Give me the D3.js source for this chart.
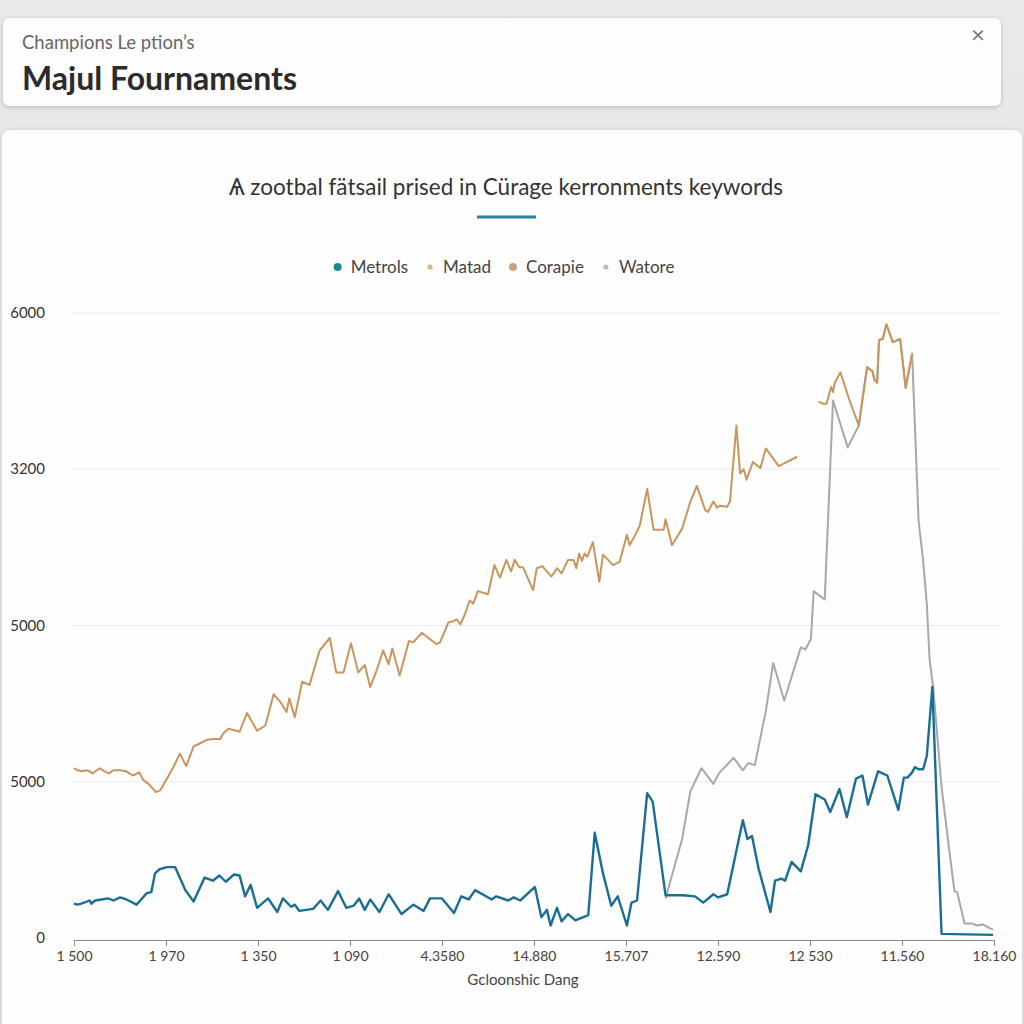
<!DOCTYPE html>
<html>
<head>
<meta charset="utf-8">
<script src="https://cdn.jsdelivr.net/npm/d3@7"></script>
<style>
  html, body { margin: 0; padding: 0; }
  body {
    width: 1024px; height: 1024px; overflow: hidden; position: relative;
    background: linear-gradient(#e9e9e9, #e2e2e2);
    font-family: Lato, "Open Sans", sans-serif;
  }
  .header {
    position: absolute; left: 3px; top: 18px; width: 998px; height: 88px;
    background: #fdfdfd; border-radius: 6px;
    box-shadow: 0 1px 4px rgba(0,0,0,0.22);
  }
  .header .sub { position: absolute; left: 19px; top: 13px; font-size: 18.5px; color: #666; line-height: 22px; }
  .header .title { position: absolute; left: 19px; top: 40px; font-size: 32px; font-weight: 700; color: #2b2b2b; line-height: 40px; }
  .header .close { position: absolute; left: 968px; top: 2px; font-size: 24px; color: #777; line-height: 28px; }
  .card {
    position: absolute; left: 2px; top: 130px; width: 1020px; height: 920px;
    background: #fefefe; border-radius: 8px;
    box-shadow: 0 0 5px rgba(0,0,0,0.12);
  }
  svg { position: absolute; left: 0; top: 0; }
</style>
</head>
<body>
<div class="header">
  <div class="sub">Champions Le ption’s</div>
  <div class="title">Majul Fournaments</div>
  <div class="close">×</div>
</div>
<div class="card"></div>
<div id="chart"></div>
<script>
// tick labels as printed on the chart
const yTicks = [0, 1500, 3000, 4500, 6000];
const yTickLabels = ["0", "5000", "5000", "3200", "6000"];
const xTicks = [0, 10, 20, 30, 40, 50, 60, 70, 80, 90, 100];
const xTickLabels = ["1 500", "1 970", "1 350", "1 090", "4.3580", "14.880", "15.707", "12.590", "12 530", "11.560", "18.160"];

const seriesNames = ["Metrols", "Matad", "Corapie", "Watore"];

// [x, value] pairs
const metrols = [
  [0,330],[0.4,320],[0.8,330],[1.7,360],[1.9,330],[2.3,360],[3.0,370],[3.7,380],[4.3,360],[5.0,390],
  [5.7,370],[6.8,320],[7.9,430],[8.4,440],[8.8,620],[9.3,660],[10.1,680],[11.0,680],[12.1,460],[13.0,350],
  [14.2,580],[15.1,550],[15.8,600],[16.5,540],[17.4,610],[18.0,600],[18.6,400],[19.2,510],[19.9,290],[21.1,380],
  [22.1,250],[22.7,380],[23.6,300],[24.0,320],[24.5,260],[26.0,280],[26.8,360],[27.6,270],[28.7,450],[29.6,290],
  [30.4,310],[31.0,380],[31.6,270],[32.2,370],[33.2,250],[34.2,420],[35.6,230],[36.9,320],[38.0,260],[38.7,380],
  [40.0,380],[41.3,240],[42.1,400],[42.9,370],[43.6,460],[45.4,370],[45.9,400],[47.2,360],[47.8,390],[48.5,360],
  [50.1,490],[50.8,200],[51.4,270],[51.8,120],[52.5,290],[53.0,160],[53.7,230],[54.5,170],[55.9,220],[56.6,1010],
  [57.5,620],[58.4,310],[59.1,400],[60.1,120],[60.6,340],[61.2,360],[62.3,1390],[62.9,1310],[64.3,410],[66.2,410],
  [67.5,400],[68.4,340],[69.5,420],[70.0,390],[71.0,420],[72.7,1130],[73.2,950],[73.7,980],[74.4,670],[75.7,250],
  [76.2,550],[76.9,570],[77.3,550],[78.0,730],[79.0,640],[79.8,890],[80.6,1380],[81.6,1330],[82.2,1210],[83.2,1430],
  [84.0,1160],[85.0,1530],[85.7,1560],[86.3,1280],[87.4,1600],[88.4,1560],[89.6,1230],[90.2,1540],[90.6,1540],[91.1,1590],
  [91.4,1640],[91.8,1620],[92.3,1620],[92.7,1750],[93.3,2410],[94.3,40],[99.9,30]
];

const matad = [
  [0,1630],[0.4,1610],[0.8,1600],[1.3,1610],[1.7,1600],[2.0,1580],[2.8,1630],[3.3,1600],[3.8,1580],[4.3,1610],
  [5.0,1610],[5.7,1600],[6.4,1560],[7.1,1590],[7.5,1520],[8.1,1480],[8.4,1450],[8.9,1400],[9.4,1420],[10.8,1640],
  [11.5,1770],[12.2,1650],[13.0,1840],[13.5,1860],[14.4,1900],[15.1,1910],[15.9,1910],[16.2,1960],[16.8,2010],[18.0,1980],
  [18.8,2160],[19.9,1990],[20.8,2040],[21.7,2340],[22.4,2270],[23.1,2170],[23.4,2300],[24.0,2120],[24.8,2460],[25.6,2430],
  [26.7,2760],[27.8,2880],[28.5,2550],[29.3,2550],[30.1,2830],[30.9,2550],[31.6,2620],[32.2,2410],[32.9,2570],[33.6,2760],
  [34.2,2630],[34.6,2780],[35.4,2520],[36.4,2850],[36.9,2840],[37.8,2930],[39.4,2820],[39.8,2840],[40.7,3030],[41.2,3040],
  [41.6,3060],[42.0,3010],[42.5,3110],[43.0,3240],[43.4,3210],[43.9,3330],[45.0,3300],[45.7,3580],[46.3,3460],[47.0,3630],
  [47.5,3520],[47.9,3630],[48.4,3560],[48.8,3560],[49.9,3340],[50.3,3550],[50.9,3570],[51.9,3470],[52.5,3550],[53.0,3500],
  [53.7,3630],[54.3,3630],[54.6,3550],[54.9,3690],[55.2,3620],[55.5,3690],[55.8,3660],[56.4,3800],[57.1,3420],[57.5,3680],
  [58.6,3580],[59.3,3610],[60.1,3870],[60.4,3770],[61.0,3870],[61.5,3960],[62.3,4310],[63.0,3920],[64.1,3920],[64.3,4020],
  [65.0,3770],[66.1,3930],[67.0,4190],[67.7,4340],[68.6,4110],[68.9,4090],[69.5,4190],[69.9,4130],[70.2,4150],[71.0,4140],
  [71.3,4190],[72.0,4920],[72.4,4460],[72.8,4500],[73.1,4400],[73.8,4570],[74.6,4510],[75.2,4700],[76.6,4530],[78.6,4620]
];

const corapie = [
  [80.9,5150],[81.4,5130],[81.8,5130],[82.3,5290],[82.5,5240],[82.7,5330],[83.3,5430],[84.3,5160],[85.3,4920],[86.2,5480],
  [86.8,5440],[87.0,5360],[87.3,5330],[87.5,5740],[87.9,5750],[88.3,5890],[89.0,5720],[89.8,5750],[90.4,5280],[91.1,5610]
];

const watore = [
  [64.3,380],[66.1,950],[67.0,1410],[68.2,1630],[69.5,1480],[70.1,1580],[71.7,1730],[72.7,1610],[73.3,1680],[74.0,1660],
  [75.2,2180],[76.0,2640],[77.2,2280],[79.0,2790],[79.5,2770],[80.1,2870],[80.4,3330],[81.6,3250],[82.5,5160],[84.1,4710],
  [85.3,4920],[86.2,5480],[86.8,5440],[87.0,5360],[87.3,5330],[87.5,5740],[87.9,5750],[88.3,5890],[89.0,5720],[89.8,5750],
  [90.4,5280],[91.1,5610],[91.8,4010],[92.3,3620],[92.7,3200],[93.0,2670],[93.4,2400],[94.3,1450],[95.1,870],[95.7,450],
  [96.0,440],[96.8,140],[97.6,140],[98.1,120],[98.8,130],[99.4,100],[99.9,80]
];

const svg = d3.select("#chart").append("svg")
    .attr("width", 1024)
    .attr("height", 1024);

const x = d3.scaleLinear().domain([0, 100]).range([74, 994]);
const y = d3.scaleLinear().domain([0, 6000]).range([938, 313]);

// chart title + accent
svg.append("text")
    .attr("x", 506).attr("y", 195)
    .attr("text-anchor", "middle")
    .style("font-size", "22.5px").style("fill", "#333")
    .text("Ѧ zootbal fätsail prised in Cürage kerronments keywords");

svg.append("line")
    .attr("x1", 477).attr("x2", 536).attr("y1", 217).attr("y2", 217)
    .style("stroke", "#2f7ca6").style("stroke-width", 3);

// legend
const legendStyle = [
  {color: "#23809e", r: 4},
  {color: "#dcb08c", r: 2.6},
  {color: "#c9a07c", r: 4},
  {color: "#b9b9b9", r: 2.6}
];
const legend = svg.append("g").attr("class", "legend");
let lx = 0;
seriesNames.forEach((name, i) => {
  const item = legend.append("g").attr("transform", `translate(${lx},0)`);
  item.append("circle").attr("cx", 0).attr("cy", 0).attr("r", legendStyle[i].r).style("fill", legendStyle[i].color);
  const t = item.append("text").attr("x", 13).attr("y", 6)
      .style("font-size", "17px").style("fill", "#444").text(name);
  lx += 13 + t.node().getComputedTextLength() + 22;
});
const legendWidth = lx - 22;
legend.attr("transform", `translate(${506 - legendWidth / 2},267)`);

// grid + y labels
const g = svg.append("g");
g.selectAll(".grid")
  .data(yTicks.slice(1))
  .enter().append("line")
    .attr("x1", 72).attr("x2", 1000)
    .attr("y1", d => y(d)).attr("y2", d => y(d))
    .style("stroke", "#ebebeb").style("stroke-width", 1.2);

g.selectAll(".ylab")
  .data(yTicks)
  .enter().append("text")
    .attr("x", 45).attr("y", d => y(d) + 5)
    .attr("text-anchor", "end")
    .style("font-size", "15px").style("fill", "#333")
    .text((d, i) => yTickLabels[i]);

// x axis
const xAxis = svg.append("g")
    .attr("transform", "translate(0,940)")
    .call(d3.axisBottom(x).tickValues(xTicks).tickSize(6).tickPadding(5)
      .tickFormat((d, i) => xTickLabels[i]));
xAxis.select(".domain").style("stroke", "#8a8a8a");
xAxis.selectAll(".tick line").style("stroke", "#8a8a8a");
xAxis.selectAll("text").style("font-size", "14px").style("fill", "#444").style("font-family", "Lato");

svg.append("text")
    .attr("x", 523).attr("y", 985)
    .attr("text-anchor", "middle")
    .style("font-size", "15px").style("fill", "#444")
    .text("Gcloonshic Dang");

// lines
const line = d3.line().x(d => x(d[0])).y(d => y(d[1]));
const data = svg.append("g").attr("class", "charts__data").style("fill", "none")
    .style("stroke-linejoin", "round");

data.append("path").datum(watore).attr("d", line).style("stroke", "#a8a8a8").style("stroke-width", 2);
data.append("path").datum(matad).attr("d", line).style("stroke", "#c8955c").style("stroke-width", 2);
data.append("path").datum(corapie).attr("d", line).style("stroke", "#c8955c").style("stroke-width", 2);
data.append("path").datum(metrols).attr("d", line).style("stroke", "#1b6e93").style("stroke-width", 2.4);
</script>
</body>
</html>
